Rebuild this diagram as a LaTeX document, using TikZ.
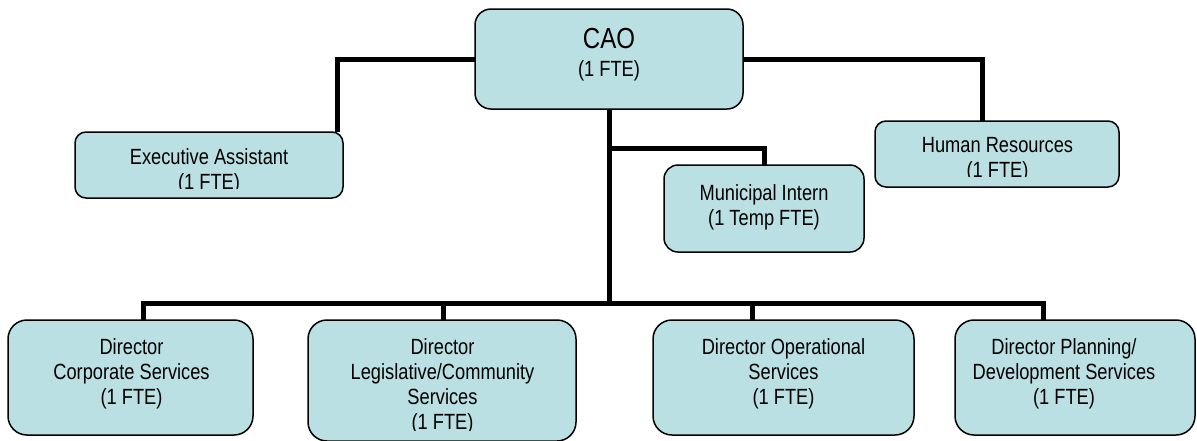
\documentclass[tikz,border=0pt]{standalone}
\usepackage{fontspec}
\setmainfont[FakeStretch=0.83]{Liberation Sans}
\usetikzlibrary{backgrounds,calc}
\definecolor{boxfill}{RGB}{187,224,227}
\newcommand{\boxlines}[1]{\begin{tabular}[t]{@{}c@{}}#1\end{tabular}}
\tikzset{
  box/.style={draw=black, line width=1.5pt, fill=boxfill, rounded corners=#1,
              inner sep=0pt, outer sep=0pt},
  lbl/.style={inner sep=0pt, anchor=base, text=black,
              font=\fontsize{22}{25}\selectfont},
  conn/.style={line width=5pt, black, line join=miter}
}
\begin{document}
\begin{tikzpicture}[x=1pt, y=-1pt]
\useasboundingbox (0,0) rectangle (1197,440);

% boxes
\node[box=16, minimum width=268, minimum height=100] (cao)  at (609,59) {};
\node[box=11, minimum width=268, minimum height=66]  (exec) at (209,165) {};
\node[box=11, minimum width=244, minimum height=66]  (hr)   at (997,154) {};
\node[box=14, minimum width=200, minimum height=87]  (mun)  at (764,208.5) {};
\node[box=19, minimum width=245, minimum height=115] (corp) at (130.5,377.5) {};
\node[box=19, minimum width=268, minimum height=121] (leg)  at (442,380.5) {};
\node[box=19, minimum width=261, minimum height=115] (op)   at (783.5,377.5) {};
\node[box=19, minimum width=240, minimum height=115] (plan) at (1075,377.5) {};

% labels
\node[lbl, font=\fontsize{22}{28}\selectfont] (cao-t) at (609,48)
  {\boxlines{{\fontsize{29}{28}\selectfont CAO}\\(1 FTE)}};
\begin{scope}
  \clip (75,132) rectangle (343,188);
  \node[lbl] (exec-t) at (209,164) {\boxlines{Executive Assistant\\(1 FTE)}};
\end{scope}
\begin{scope}
  \clip (875,121) rectangle (1119,176);
  \node[lbl] (hr-t) at (997.5,152) {\boxlines{Human Resources\\(1 FTE)}};
\end{scope}
\node[lbl] (mun-t) at (764,200) {\boxlines{Municipal Intern\\(1 Temp FTE)}};
\node[lbl] (corp-t) at (131.5,354) {\boxlines{Director\\Corporate Services\\(1 FTE)}};
\begin{scope}
  \clip (308,320) rectangle (576,430);
  \node[lbl] (leg-t) at (442.5,354)
    {\boxlines{Director\\Legislative/Community\\Services\\(1 FTE)}};
\end{scope}
\node[lbl] (op-t) at (783.5,354) {\boxlines{Director Operational\\Services\\(1 FTE)}};
\node[lbl] (plan-t) at (1064,354) {\boxlines{Director Planning/\\Development Services\\(1 FTE)}};

% connectors
\coordinate (bus) at (609,303);
\begin{pgfonlayer}{background}
  \draw[conn] (cao.west) -| ($(exec.north)+(128,0)$);
  \draw[conn] (cao.east) -| ($(hr.north)+(-15,0)$);
  \draw[conn] (cao.south) -- (bus);
  \draw[conn] ($(cao.south)+(0,39)$) -| (mun.north);
  \draw[conn] ($(corp.north)+(12.5,0)$) |- ($(plan.north)+(-32,-17)$)
              -- ($(plan.north)+(-32,0)$);
  \draw[conn] ($(leg.north)+(1,0)$) -- ++(0,-17);
  \draw[conn] ($(op.north)+(-31.5,0)$) -- ++(0,-17);
\end{pgfonlayer}
\end{tikzpicture}
\end{document}
